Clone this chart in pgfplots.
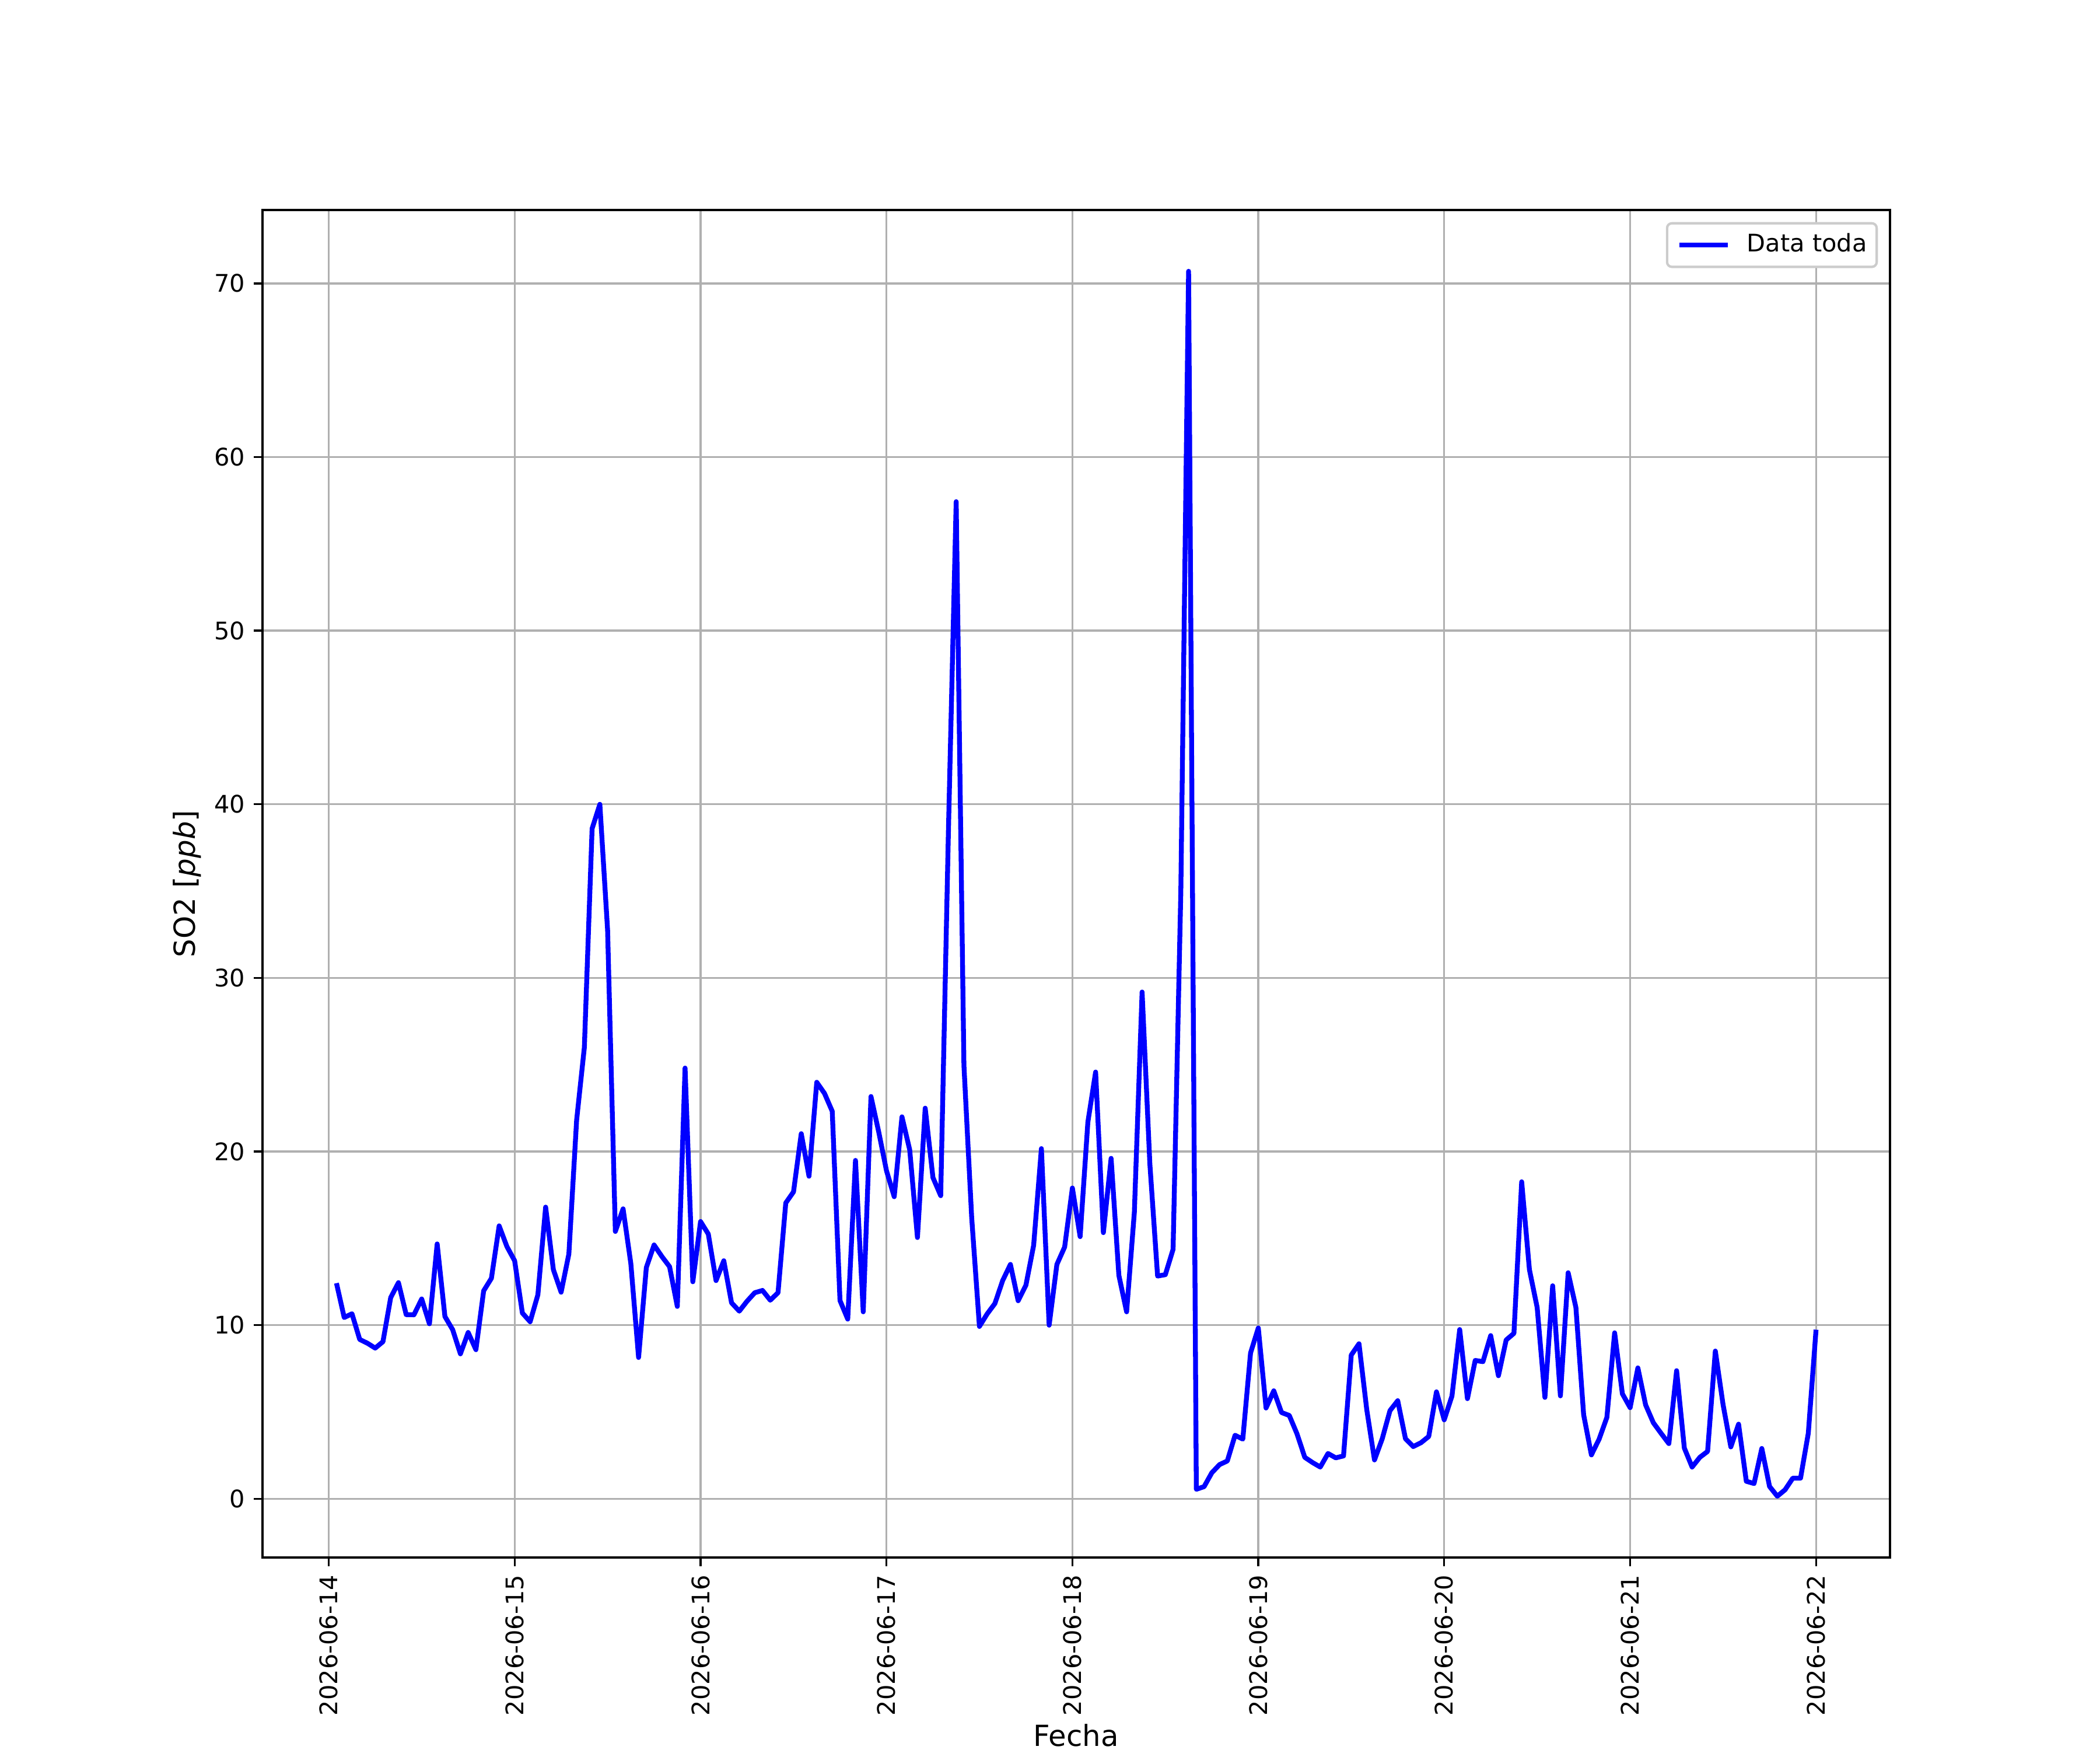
\documentclass[border=0pt]{standalone}
\usepackage{fontspec}
\setmainfont{DejaVu Sans}
\usepackage{pgfplots}
\pgfplotsset{compat=1.18}
\usetikzlibrary{calc}
\definecolor{gridgray}{HTML}{B0B0B0}
\definecolor{legedge}{HTML}{CCCCCC}
\begin{document}
\begin{tikzpicture}
\begin{axis}[
  at={(0,0)}, anchor=south west,
  scale only axis, width=9.3in, height=7.7in,
  xmin=-8.55, xmax=201.55, ymin=-3.38, ymax=74.23,
  xtick={0,24,48,72,96,120,144,168,192},
  xticklabels={2026-06-14,2026-06-15,2026-06-16,2026-06-17,2026-06-18,2026-06-19,2026-06-20,2026-06-21,2026-06-22},
  ytick={0,10,20,30,40,50,60,70},
  grid=major,
  major grid style={gridgray, line width=0.8pt},
  axis line style={line width=0.8pt, black},
  every tick/.style={line width=0.8pt, black},
  major tick length=3.5pt,
  tick align=outside,
  xtick pos=lower, ytick pos=left,
  /pgf/number format/assume math mode=true,
  ticklabel style={font=\fontsize{10}{12}\selectfont},
  xticklabel style={rotate=90, anchor=east, inner sep=0pt},
  yticklabel style={anchor=east, inner sep=0pt},
  xticklabel shift=3.5pt, yticklabel shift=3.5pt,
  xlabel={Fecha},
  ylabel={SO2 [\textit{ppb}]},
  label style={font=\fontsize{12}{14}\selectfont},
  xlabel style={at={($(axis description cs:0.5,0)+(0,-78pt)$)}, anchor=base, inner sep=0pt},
  ylabel style={at={($(axis description cs:0,0.5)+(-0.43in,0)$)}, anchor=center, inner sep=0pt},
  legend style={at={(1,1)}, anchor=north east, xshift=-5pt, yshift=-5pt,
    draw=legedge, line width=1pt, fill=white, rounded corners=2pt,
    inner xsep=4pt, inner ysep=4pt, font=\fontsize{10}{12}\selectfont,
    nodes={inner sep=0pt, text height=7.7pt, text depth=2.3pt}, cells={anchor=west}},
  legend image code/.code={\draw[#1, line cap=butt] (0pt,0pt) -- (20pt,0pt); \path[draw=none, fill=none] (0pt,0pt) -- (28pt,0pt);},
]
\addplot[color=blue, line width=2pt, line join=round, mark=none] coordinates {
(1,12.42) (2,10.44) (3,10.66) (4,9.18) (5,8.96) (6,8.68) (7,9.05) (8,11.59) (9,12.45) (10,10.61)
(11,10.60) (12,11.51) (13,10.08) (14,14.68) (15,10.50) (16,9.74) (17,8.35) (18,9.58) (19,8.59) (20,11.98)
(21,12.70) (22,15.72) (23,14.53) (24,13.71) (25,10.70) (26,10.20) (27,11.75) (28,16.80) (29,13.2) (30,11.9)
(31,14.1) (32,21.8) (33,26.0) (34,38.6) (35,40.0) (36,32.75) (37,15.4) (38,16.7) (39,13.55) (40,8.14)
(41,13.32) (42,14.62) (43,13.96) (44,13.37) (45,11.08) (46,24.81) (47,12.5) (48,15.97) (49,15.25) (50,12.57)
(51,13.71) (52,11.29) (53,10.81) (54,11.38) (55,11.87) (56,12.0) (57,11.44) (58,11.87) (59,17.04) (60,17.68)
(61,21.03) (62,18.58) (63,23.99) (64,23.35) (65,22.32) (66,11.42) (67,10.35) (68,19.49) (69,10.77) (70,23.17)
(71,21.13) (72,18.9) (73,17.4) (74,22.0) (75,20.1) (76,15.05) (77,22.5) (78,18.5) (79,17.46) (80,38.5)
(81,57.43) (82,24.96) (83,16.2) (84,9.93) (85,10.65) (86,11.25) (87,12.57) (88,13.5) (89,11.41) (90,12.3)
(91,14.6) (92,20.17) (93,10.0) (94,13.5) (95,14.5) (96,17.9) (97,15.1) (98,21.7) (99,24.58) (100,15.33)
(101,19.61) (102,12.87) (103,10.77) (104,16.5) (105,29.19) (106,19.3) (107,12.83) (108,12.91) (109,14.37) (110,35.0)
(111,70.7) (112,0.55) (113,0.7) (114,1.5) (115,1.97) (116,2.18) (117,3.66) (118,3.44) (119,8.4) (120,9.84)
(121,5.23) (122,6.22) (123,4.97) (124,4.8) (125,3.74) (126,2.39) (127,2.09) (128,1.83) (129,2.61) (130,2.36)
(131,2.47) (132,8.28) (133,8.93) (134,5.14) (135,2.24) (136,3.46) (137,5.08) (138,5.65) (139,3.46) (140,3.01)
(141,3.23) (142,3.59) (143,6.16) (144,4.55) (145,5.92) (146,9.75) (147,5.77) (148,7.97) (149,7.9) (150,9.4)
(151,7.09) (152,9.15) (153,9.53) (154,18.26) (155,13.2) (156,11.02) (157,5.84) (158,12.27) (159,5.93) (160,13.02)
(161,11.02) (162,4.84) (163,2.53) (164,3.44) (165,4.69) (166,9.56) (167,6.05) (168,5.25) (169,7.54) (170,5.41)
(171,4.38) (172,3.77) (173,3.18) (174,7.38) (175,2.92) (176,1.83) (177,2.39) (178,2.73) (179,8.51) (180,5.42)
(181,2.99) (182,4.3) (183,1.01) (184,0.88) (185,2.9) (186,0.71) (187,0.15) (188,0.52) (189,1.19) (190,1.19)
(191,3.77) (192,9.74)
};
\addlegendentry{Data toda}
\end{axis}
\pgfresetboundingbox
\path ($(current axis.south west)+(-1.5in,-1.1in)$) rectangle ($(current axis.north east)+(1.2in,1.2in)$);
\end{tikzpicture}
\end{document}
